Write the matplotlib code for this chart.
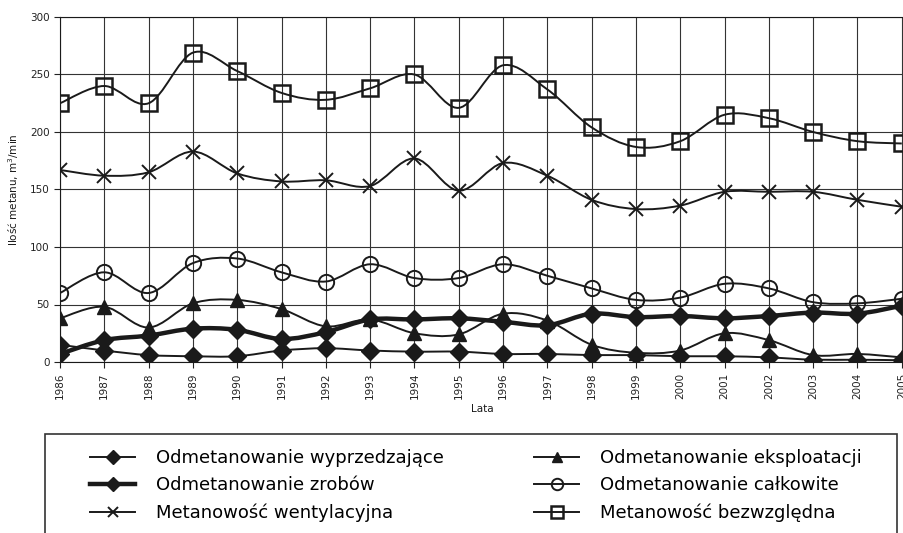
import matplotlib
matplotlib.use("Agg")
import matplotlib.pyplot as plt
from matplotlib.path import Path
from matplotlib.patches import PathPatch, Rectangle
from matplotlib.lines import Line2D

years = list(range(1986, 2006))

wyprzedzajace = [15, 10, 6, 5, 5, 10, 12, 10, 9, 9, 7, 7, 6, 6, 5, 5, 4, 2, 2, 1.5]
zrobow = [7, 19, 23, 29, 28, 20, 26, 37, 37, 38, 35, 32, 42, 39, 40, 38, 40, 43, 42, 49]
eksploatacji = [38, 48, 30, 51, 54, 46, 31, 37, 25, 24, 42, 36, 15, 8, 10, 25, 19, 6, 7, 4]
calkowite = [60, 78, 60, 86, 90, 78, 70, 85, 73, 73, 85, 75, 64, 54, 56, 68, 64, 52, 51, 55]
wentylacyjna = [167, 162, 165, 183, 164, 157, 158, 153, 177, 149, 173, 162, 141, 133, 136, 148, 148, 148, 141, 135]
bezwzgledna = [225, 240, 225, 269, 253, 234, 228, 238, 250, 221, 258, 237, 204, 187, 192, 215, 212, 200, 192, 190]

labels = ['Odmetanowanie wyprzedzające', 'Odmetanowanie zrobów',
          'Metanowość wentylacyjna', 'Odmetanowanie eksploatacji',
          'Odmetanowanie całkowite', 'Metanowość bezwzględna']


def smooth_path(x, y):
    # Excel-like smoothed line: cubic Bezier through every point
    verts = [(x[0], y[0])]
    codes = [Path.MOVETO]
    n = len(x)
    for i in range(n - 1):
        p0 = (x[max(i - 1, 0)], y[max(i - 1, 0)])
        p1 = (x[i], y[i])
        p2 = (x[i + 1], y[i + 1])
        p3 = (x[min(i + 2, n - 1)], y[min(i + 2, n - 1)])
        c1 = (p1[0] + (p2[0] - p0[0]) / 6, p1[1] + (p2[1] - p0[1]) / 6)
        c2 = (p2[0] - (p3[0] - p1[0]) / 6, p2[1] - (p3[1] - p1[1]) / 6)
        verts += [c1, c2, p2]
        codes += [Path.CURVE4] * 3
    return Path(verts, codes)


fig = plt.figure(figsize=(9.04, 5.33), dpi=100)
ax = fig.add_axes([60 / 904, 1 - 362 / 533, 1 - 60 / 904, 345 / 533])

styles = [
    (wyprzedzajace, dict(marker='D', mfc='#1a1a1a', ms=9), 1.4),
    (zrobow, dict(marker='D', mfc='#1a1a1a', ms=9), 3.2),
    (wentylacyjna, dict(marker='x', mfc='none', ms=10, mew=1.4), 1.4),
    (eksploatacji, dict(marker='^', mfc='#1a1a1a', ms=10), 1.4),
    (calkowite, dict(marker='o', mfc='none', ms=11, mew=1.4), 1.4),
    (bezwzgledna, dict(marker='s', mfc='none', ms=11, mew=1.8), 1.4),
]

handles = []
for (vals, mk, lw), lab in zip(styles, labels):
    ax.add_patch(PathPatch(smooth_path(years, vals), fill=False,
                           edgecolor='#1a1a1a', lw=lw, zorder=3))
    ax.plot(years, vals, linestyle='none', mec='#1a1a1a', zorder=4, **mk)
    handles.append(Line2D([], [], color='#1a1a1a', lw=lw, mec='#1a1a1a', **mk))

ax.set_xlim(1986, 2005.05)
ax.set_ylim(0, 300)
ax.set_yticks(range(0, 301, 50))
ax.set_xticks(years)
ax.set_xticklabels([str(y) for y in years], rotation=90)
ax.tick_params(axis='both', labelsize=7.5, colors='#222222', length=4, width=0.8)
ax.grid(True, color='#333333', lw=0.8)
ax.set_axisbelow(True)
for s in ax.spines.values():
    s.set_color('#1a1a1a')
    s.set_linewidth(0.8)

ax.set_xlabel('Lata', fontsize=7.5, color='#1a1a1a', labelpad=4)
ax.set_ylabel('Ilość metanu, m$^3$/min', fontsize=7.5, color='#1a1a1a', labelpad=6)

fig.patches.append(Rectangle((45 / 904, -0.05), 852 / 904, 1 - 434 / 533 + 0.05,
                             transform=fig.transFigure, fill=False,
                             edgecolor='#333333', lw=1.2))
fig.legend(handles, labels, loc='upper left', bbox_to_anchor=(90 / 904, 1 - 449 / 533),
           ncol=2, frameon=False, fontsize=13, handlelength=2.5, markerscale=0.75,
           labelspacing=0.52, columnspacing=5.0, handletextpad=1.15,
           borderpad=0, borderaxespad=0)

fig.savefig('out.png', dpi=100)
